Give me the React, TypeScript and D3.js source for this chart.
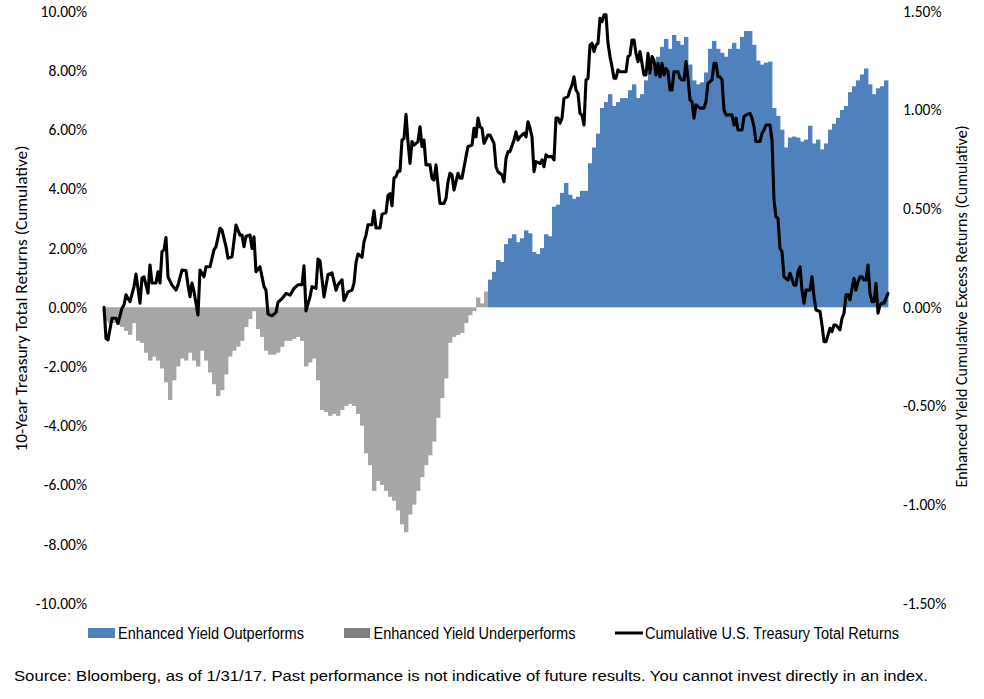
import React from 'react';
import * as d3 from 'd3';

const width = 984;
const height = 699;
const margin = { top: 11.3, left: 104, bottom: 95.7, right: 96 };
const innerWidth = width - margin.left - margin.right;
const innerHeight = height - margin.top - margin.bottom;

// cumulative excess return of Enhanced Yield (%), one bar per two trading days
const underperform = [
  -0.07, -0.08, -0.08, -0.09, -0.10, -0.12, -0.14, -0.08, -0.17, -0.18,
  -0.23, -0.27, -0.25, -0.27, -0.31, -0.38, -0.47, -0.37, -0.30, -0.26,
  -0.27, -0.23, -0.27, -0.30, -0.22, -0.27, -0.33, -0.39, -0.45, -0.42,
  -0.34, -0.25, -0.22, -0.20, -0.17, -0.10, -0.06, -0.02, -0.11, -0.15,
  -0.22, -0.24, -0.24, -0.23, -0.20, -0.17, -0.17, -0.16, -0.15, -0.17,
  -0.30, -0.28, -0.26, -0.37, -0.52, -0.53, -0.55, -0.54, -0.55, -0.52,
  -0.50, -0.49, -0.50, -0.54, -0.60, -0.74, -0.80, -0.93, -0.88, -0.90,
  -0.93, -0.96, -0.98, -1.03, -1.10, -1.14, -1.05, -1.00, -0.93, -0.86,
  -0.80, -0.75, -0.68, -0.56, -0.46, -0.36, -0.18, -0.15, -0.14, -0.13,
  -0.08, -0.04, -0.02, 0.05, 0.02, 0.08,
];
const outperform = [
  0.14, 0.18, 0.24, 0.23, 0.32, 0.35, 0.37, 0.33, 0.35, 0.39,
  0.375, 0.28, 0.27, 0.30, 0.37, 0.36, 0.51, 0.52, 0.58, 0.63,
  0.57, 0.55, 0.56, 0.59, 0.59, 0.73, 0.81, 0.88, 1.01, 1.04,
  1.08, 1.02, 1.04, 1.06, 1.06, 1.10, 1.13, 1.06, 1.08, 1.15,
  1.19, 1.22, 1.27, 1.32, 1.36, 1.31, 1.38, 1.35, 1.33, 1.37,
  1.23, 1.15, 1.13, 1.14, 1.19, 1.31, 1.35, 1.31, 1.29, 1.27,
  1.31, 1.34, 1.31, 1.37, 1.40, 1.40, 1.33, 1.25, 1.23, 1.24,
  1.245, 1.01, 0.97, 0.90, 0.81, 0.86, 0.865, 0.86, 0.84, 0.85,
  0.92, 0.83, 0.85, 0.80, 0.83, 0.90, 0.93, 0.96, 1.00, 1.02,
  1.09, 1.12, 1.15, 1.18, 1.21, 1.13, 1.08, 1.11, 1.12, 1.15,
];

// cumulative 10-year Treasury total return: [trading day, %]
const treasury: [number, number][] = [
  [0, 0.00], [1, -1.05], [2, -1.10], [4, -0.37], [6, -0.37], [7, -0.54], [9, -0.03], [10, 0.08], [11, 0.42], [13, 0.19],
  [15, 0.70], [16, 1.12], [18, 0.14], [19, 0.99], [20, 1.03], [22, 0.48], [23, 1.43], [24, 0.82], [26, 0.82], [27, 1.20],
  [28, 0.82], [29, 1.88], [30, 1.94], [31, 2.36], [32, 1.03], [34, 0.75], [36, 0.58], [37, 0.75], [39, 1.26], [41, 1.24],
  [42, 0.75], [43, 0.36], [44, 0.82], [45, 0.53], [47, -0.26], [48, 1.26], [50, 1.03], [51, 1.37], [53, 1.37], [55, 1.94],
  [56, 2.05], [58, 2.67], [59, 2.61], [61, 2.05], [62, 1.66], [64, 1.71], [66, 2.78], [68, 2.44], [69, 2.44], [70, 2.05],
  [71, 2.40], [73, 2.44], [74, 1.99], [75, 2.38], [76, 1.20], [78, 1.37], [80, 0.70], [81, 0.58], [82, -0.23], [84, -0.29],
  [86, -0.17], [87, 0.17], [89, 0.29], [91, 0.47], [93, 0.41], [95, 0.64], [97, 0.76], [99, 0.76], [100, 1.40], [101, -0.12],
  [103, 0.35], [104, 0.70], [106, 0.64], [107, 1.63], [108, 1.57], [110, 0.35], [112, 1.11], [114, 1.16], [116, 0.58], [117, 0.76],
  [119, 0.93], [120, 0.23], [122, 0.52], [124, 0.58], [125, 0.81], [126, 1.51], [127, 1.80], [129, 1.69], [130, 2.21], [131, 2.44],
  [132, 2.79], [134, 2.79], [135, 3.26], [136, 2.68], [138, 2.68], [139, 3.14], [141, 3.20], [142, 3.78], [143, 3.84], [144, 3.43],
  [145, 4.37], [146, 4.42], [147, 4.60], [148, 4.60], [149, 5.65], [150, 5.70], [151, 6.52], [152, 5.59], [153, 4.86], [154, 5.60],
  [155, 5.48], [157, 5.60], [158, 6.10], [159, 5.43], [160, 5.65], [161, 4.81], [163, 4.81], [164, 4.36], [165, 4.30], [166, 4.81],
  [167, 4.13], [168, 3.51], [170, 3.51], [171, 3.68], [172, 4.24], [173, 4.53], [174, 4.47], [175, 3.96], [177, 4.53], [178, 4.36],
  [179, 4.36], [181, 5.09], [182, 5.43], [184, 5.48], [185, 6.05], [186, 5.76], [187, 6.39], [188, 6.10], [189, 6.05], [190, 5.54],
  [192, 5.82], [193, 5.82], [195, 5.54], [196, 4.75], [197, 4.58], [199, 4.47], [200, 4.24], [201, 5.03], [202, 5.26], [203, 5.26],
  [205, 5.65], [206, 5.93], [207, 5.65], [208, 5.76], [210, 5.88], [211, 5.76], [212, 6.27], [213, 6.05], [214, 5.76], [215, 4.58],
  [216, 4.92], [218, 4.86], [219, 4.98], [220, 4.75], [221, 5.15], [222, 5.09], [224, 5.09], [225, 4.98], [226, 6.39], [227, 6.39],
  [228, 6.22], [229, 6.39], [230, 7.06], [232, 7.12], [233, 7.34], [234, 7.51], [235, 7.79], [236, 7.34], [237, 7.23], [238, 6.55],
  [239, 6.50], [240, 6.16], [241, 7.68], [242, 7.73], [243, 8.86], [244, 8.92], [245, 8.64], [246, 8.86], [247, 8.92], [248, 9.76],
  [249, 9.65], [250, 9.88], [251, 9.88], [252, 8.92], [253, 8.47], [254, 8.13], [255, 7.74], [256, 7.74], [257, 8.02], [258, 7.96],
  [260, 7.96], [261, 7.96], [262, 8.47], [263, 8.52], [264, 9.03], [265, 9.03], [266, 8.58], [267, 8.30], [268, 8.64], [269, 8.24],
  [270, 7.85], [271, 7.85], [272, 8.58], [273, 7.91], [274, 8.47], [275, 8.35], [276, 7.85], [277, 8.24], [278, 7.79], [279, 8.24],
  [280, 7.85], [281, 8.07], [282, 7.96], [283, 7.34], [284, 7.34], [285, 7.96], [287, 7.96], [288, 7.74], [289, 7.68], [290, 7.68],
  [291, 8.30], [292, 7.74], [293, 7.00], [294, 6.95], [295, 6.39], [296, 6.84], [298, 6.73], [300, 6.73], [301, 6.95], [302, 7.57],
  [304, 7.68], [305, 8.24], [306, 8.24], [307, 7.79], [308, 7.79], [309, 7.68], [310, 6.67], [311, 6.50], [313, 6.50], [314, 6.50],
  [315, 6.16], [316, 6.39], [317, 5.99], [319, 5.99], [320, 6.44], [321, 6.50], [323, 6.55], [324, 6.39], [325, 6.10], [326, 5.60],
  [328, 5.60], [329, 5.88], [330, 5.99], [331, 6.16], [333, 6.16], [334, 5.65], [335, 3.62], [336, 3.06], [337, 3.00], [338, 1.99],
  [339, 1.88], [340, 1.03], [342, 0.92], [343, 1.15], [345, 0.75], [346, 0.75], [347, 1.20], [348, 1.37], [349, 0.58], [350, 0.14],
  [351, 0.58], [353, 0.58], [354, 1.03], [355, 0.36], [356, -0.09], [358, -0.14], [359, -0.60], [360, -1.16], [361, -1.16], [363, -0.71],
  [364, -0.82], [365, -0.60], [366, -0.60], [368, -0.76], [369, -0.37], [370, -0.20], [371, 0.42], [372, 0.42], [373, 0.25], [374, 0.64],
  [375, 0.98], [376, 0.58], [377, 0.87], [378, 1.03], [379, 1.03], [380, 0.92], [381, 0.92], [382, 1.43], [383, 0.47], [384, 0.19],
  [385, 0.19], [386, 0.81], [387, -0.20], [388, 0.08], [389, 0.14], [390, 0.14], [392, 0.47],
];

const leftTicks = [10, 8, 6, 4, 2, 0, -2, -4, -6, -8, -10];
const rightTicks = [1.5, 1, 0.5, 0, -0.5, -1, -1.5];

const leftTitle = '10-Year Treasury Total Returns (Cumulative)';
const rightTitle = 'Enhanced Yield Cumulative Excess Returns (Cumulative)';
const sourceNote = 'Source: Bloomberg, as of 1/31/17. Past performance is not indicative of future results. You cannot invest directly in an index.';

const BLUE = '#4f81bd';
const GRAY = '#a6a6a6';

const tickFont = 'Carlito, Lato, "Open Sans", sans-serif';
const legendFont = '"Liberation Sans Narrow", "Liberation Sans", Arial, sans-serif';

// plain hyphen for negatives, like the spreadsheet labels
const fmtPct = (v: number) => d3.format('.2f')(v).replace('\u2212', '-') + '%';

export default function App() {
  const nBars = underperform.length + outperform.length;
  const bars = [
    ...underperform.map((v, i) => ({ i, v, color: GRAY })),
    ...outperform.map((v, i) => ({ i: i + underperform.length, v, color: BLUE })),
  ];

  const xBand = d3.scaleBand<number>()
    .domain(d3.range(nBars))
    .range([0, innerWidth])
    .paddingInner(0);
  const xDay = d3.scaleLinear()
    .domain([0, nBars * 2])
    .range([0, innerWidth]);
  const yLeft = d3.scaleLinear().domain([-10, 10]).range([innerHeight, 0]);
  const yRight = d3.scaleLinear().domain([-1.5, 1.5]).range([innerHeight, 0]);

  const linePath = d3.line<[number, number]>()
    .x((d) => xDay(d[0]))
    .y((d) => yLeft(d[1]))(treasury);

  return (
    <svg
      width={width}
      height={height}
      viewBox={`0 0 ${width} ${height}`}
      style={{ position: 'absolute', left: 0, top: 0, display: 'block', background: '#fff' }}
    >
      <g transform={`translate(${margin.left}, ${margin.top})`}>
        {/* excess return columns */}
        {bars.map((b) => (
          <rect
            key={b.i}
            x={xBand(b.i)}
            width={xBand.bandwidth() + 0.4}
            y={Math.min(yRight(b.v), yRight(0))}
            height={Math.abs(yRight(b.v) - yRight(0))}
            fill={b.color}
          />
        ))}

        {/* treasury line */}
        <path
          d={linePath || ''}
          fill="none"
          stroke="#000"
          strokeWidth={3.1}
          strokeLinejoin="round"
          strokeLinecap="round"
        />

        {/* left axis */}
        {leftTicks.map((t) => (
          <text
            key={'l' + t}
            x={-17}
            y={yLeft(t)}
            dy="0.35em"
            textAnchor="end"
            fontFamily={tickFont}
            fontSize={15.5}
            fill="#000"
          >
            {fmtPct(t)}
          </text>
        ))}

        {/* right axis */}
        {rightTicks.map((t) => (
          <text
            key={'r' + t}
            x={innerWidth + 15}
            y={yRight(t)}
            dy="0.35em"
            textAnchor="start"
            fontFamily={tickFont}
            fontSize={15.5}
            fill="#000"
          >
            {fmtPct(t)}
          </text>
        ))}
      </g>

      <text
        transform={`translate(22, 298.5) rotate(-90)`}
        textAnchor="middle"
        dy="0.35em"
        fontFamily={tickFont}
        fontSize={15.5}
        fill="#000"
        textLength={306}
        lengthAdjust="spacingAndGlyphs"
      >
        {leftTitle}
      </text>
      <text
        transform={`translate(962, 306.5) rotate(-90)`}
        textAnchor="middle"
        dy="0.35em"
        fontFamily={tickFont}
        fontSize={15.5}
        fill="#000"
        textLength={362}
        lengthAdjust="spacingAndGlyphs"
      >
        {rightTitle}
      </text>

      {/* legend */}
      <g fontFamily={legendFont} fontSize={16} fill="#000">
        <rect x={88} y={628} width={27} height={10} fill={BLUE} />
        <text x={118} y={633} dy="0.35em" textLength={186} lengthAdjust="spacingAndGlyphs">
          Enhanced Yield Outperforms
        </text>
        <rect x={344} y={628} width={26} height={10} fill="#808080" />
        <text x={373.5} y={633} dy="0.35em" textLength={202} lengthAdjust="spacingAndGlyphs">
          Enhanced Yield Underperforms
        </text>
        <line x1={615} x2={643} y1={633} y2={633} stroke="#000" strokeWidth={3} />
        <text x={645} y={633} dy="0.35em" textLength={254} lengthAdjust="spacingAndGlyphs">
          Cumulative U.S. Treasury Total Returns
        </text>
      </g>

      <text
        x={14}
        y={676}
        dy="0.35em"
        fontFamily='"Liberation Sans", Arial, sans-serif'
        fontSize={15.5}
        fill="#000"
        textLength={914}
        lengthAdjust="spacingAndGlyphs"
      >
        {sourceNote}
      </text>
    </svg>
  );
}
